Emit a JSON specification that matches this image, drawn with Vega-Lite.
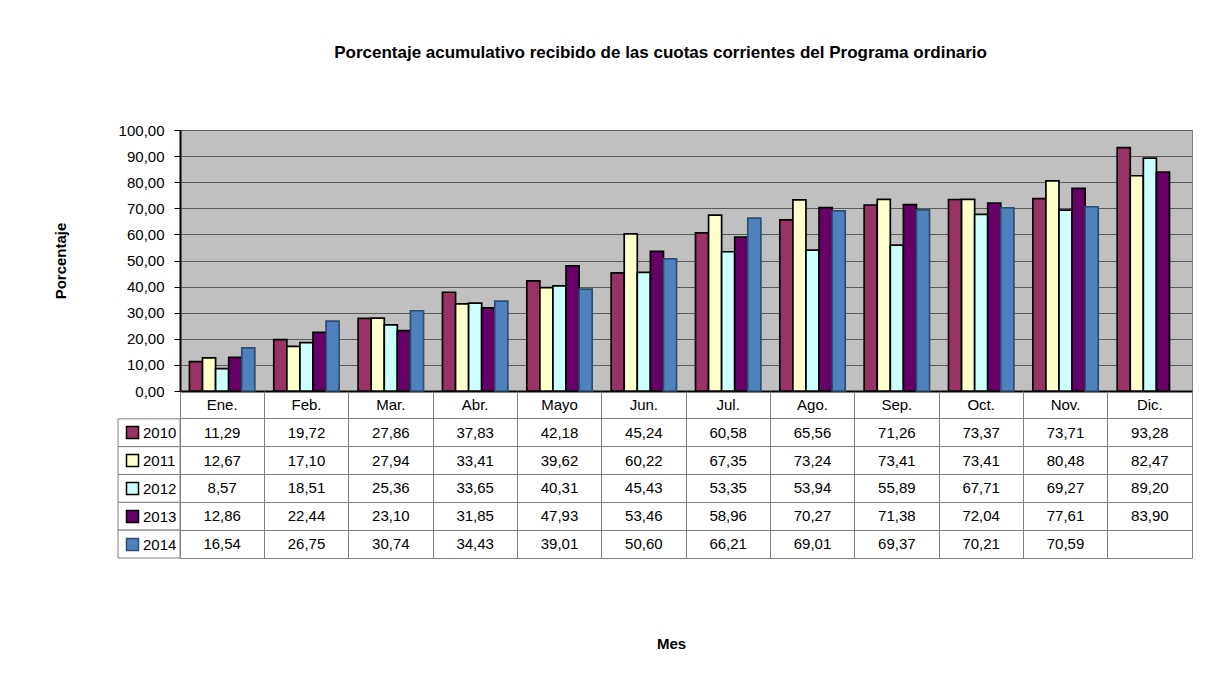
{
  "$schema": "https://vega.github.io/schema/vega-lite/v6.json",
  "background": "white",
  "padding": {"left": 52, "top": 43, "right": 5, "bottom": 5},
  "title": {"text": "Porcentaje acumulativo recibido de las cuotas corrientes del Programa ordinario", "fontSize": 17, "fontWeight": "bold", "anchor": "middle", "offset": 61, "dx": 38, "color": "black", "font": "Liberation Sans"},
  "config": {
    "font": "Liberation Sans",
    "locale": {"number": {"decimal": ",", "thousands": ".", "grouping": [3], "currency": ["", " €"]}}
  },
  "datasets": {
    "d": [
      {"mes": "Ene.", "anio": "2010", "valor": 11.29}, {"mes": "Feb.", "anio": "2010", "valor": 19.72}, {"mes": "Mar.", "anio": "2010", "valor": 27.86}, {"mes": "Abr.", "anio": "2010", "valor": 37.83}, {"mes": "Mayo", "anio": "2010", "valor": 42.18}, {"mes": "Jun.", "anio": "2010", "valor": 45.24}, {"mes": "Jul.", "anio": "2010", "valor": 60.58}, {"mes": "Ago.", "anio": "2010", "valor": 65.56}, {"mes": "Sep.", "anio": "2010", "valor": 71.26}, {"mes": "Oct.", "anio": "2010", "valor": 73.37}, {"mes": "Nov.", "anio": "2010", "valor": 73.71}, {"mes": "Dic.", "anio": "2010", "valor": 93.28},
      {"mes": "Ene.", "anio": "2011", "valor": 12.67}, {"mes": "Feb.", "anio": "2011", "valor": 17.10}, {"mes": "Mar.", "anio": "2011", "valor": 27.94}, {"mes": "Abr.", "anio": "2011", "valor": 33.41}, {"mes": "Mayo", "anio": "2011", "valor": 39.62}, {"mes": "Jun.", "anio": "2011", "valor": 60.22}, {"mes": "Jul.", "anio": "2011", "valor": 67.35}, {"mes": "Ago.", "anio": "2011", "valor": 73.24}, {"mes": "Sep.", "anio": "2011", "valor": 73.41}, {"mes": "Oct.", "anio": "2011", "valor": 73.41}, {"mes": "Nov.", "anio": "2011", "valor": 80.48}, {"mes": "Dic.", "anio": "2011", "valor": 82.47},
      {"mes": "Ene.", "anio": "2012", "valor": 8.57}, {"mes": "Feb.", "anio": "2012", "valor": 18.51}, {"mes": "Mar.", "anio": "2012", "valor": 25.36}, {"mes": "Abr.", "anio": "2012", "valor": 33.65}, {"mes": "Mayo", "anio": "2012", "valor": 40.31}, {"mes": "Jun.", "anio": "2012", "valor": 45.43}, {"mes": "Jul.", "anio": "2012", "valor": 53.35}, {"mes": "Ago.", "anio": "2012", "valor": 53.94}, {"mes": "Sep.", "anio": "2012", "valor": 55.89}, {"mes": "Oct.", "anio": "2012", "valor": 67.71}, {"mes": "Nov.", "anio": "2012", "valor": 69.27}, {"mes": "Dic.", "anio": "2012", "valor": 89.20},
      {"mes": "Ene.", "anio": "2013", "valor": 12.86}, {"mes": "Feb.", "anio": "2013", "valor": 22.44}, {"mes": "Mar.", "anio": "2013", "valor": 23.10}, {"mes": "Abr.", "anio": "2013", "valor": 31.85}, {"mes": "Mayo", "anio": "2013", "valor": 47.93}, {"mes": "Jun.", "anio": "2013", "valor": 53.46}, {"mes": "Jul.", "anio": "2013", "valor": 58.96}, {"mes": "Ago.", "anio": "2013", "valor": 70.27}, {"mes": "Sep.", "anio": "2013", "valor": 71.38}, {"mes": "Oct.", "anio": "2013", "valor": 72.04}, {"mes": "Nov.", "anio": "2013", "valor": 77.61}, {"mes": "Dic.", "anio": "2013", "valor": 83.90},
      {"mes": "Ene.", "anio": "2014", "valor": 16.54}, {"mes": "Feb.", "anio": "2014", "valor": 26.75}, {"mes": "Mar.", "anio": "2014", "valor": 30.74}, {"mes": "Abr.", "anio": "2014", "valor": 34.43}, {"mes": "Mayo", "anio": "2014", "valor": 39.01}, {"mes": "Jun.", "anio": "2014", "valor": 50.60}, {"mes": "Jul.", "anio": "2014", "valor": 66.21}, {"mes": "Ago.", "anio": "2014", "valor": 69.01}, {"mes": "Sep.", "anio": "2014", "valor": 69.37}, {"mes": "Oct.", "anio": "2014", "valor": 70.21}, {"mes": "Nov.", "anio": "2014", "valor": 70.59}
    ],
    "filas": [{"anio": "2010"}, {"anio": "2011"}, {"anio": "2012"}, {"anio": "2013"}, {"anio": "2014"}]
  },
  "columns": 2,
  "spacing": 0,
  "align": "each",
  "bounds": "flush",
  "resolve": {"scale": {"x": "independent", "y": "independent", "color": "shared", "stroke": "shared"}},
  "concat": [
    {
      "width": 62, "height": 261,
      "view": {"stroke": null},
      "data": {"values": [{"t": ""}]},
      "mark": {"type": "text"},
      "encoding": {"text": {"field": "t", "type": "nominal"}}
    },
    {
      "width": 1012, "height": 261,
      "view": {"fill": "#C0C0C0", "stroke": "#808080"},
      "data": {"name": "d"},
      "mark": {"type": "bar", "strokeWidth": 1.7},
      "encoding": {
        "x": {"field": "mes", "type": "nominal", "sort": ["Ene.", "Feb.", "Mar.", "Abr.", "Mayo", "Jun.", "Jul.", "Ago.", "Sep.", "Oct.", "Nov.", "Dic."],
              "scale": {"paddingInner": 0.225, "paddingOuter": 0.112},
              "axis": {"labels": false, "ticks": false, "title": null, "domainColor": "black", "domainWidth": 2}},
        "xOffset": {"field": "anio", "type": "nominal", "scale": {"paddingInner": 0, "paddingOuter": 0}},
        "y": {"field": "valor", "type": "quantitative", "scale": {"domain": [0, 100], "nice": false},
              "axis": {"values": [0, 10, 20, 30, 40, 50, 60, 70, 80, 90, 100], "format": ".2f", "grid": true, "gridColor": "#5a5a5a", "gridWidth": 1, "gridOpacity": 1,
                       "domainColor": "black", "domainWidth": 2, "tickColor": "black", "tickSize": 6, "labelPadding": 10, "labelFontSize": 15, "labelColor": "black",
                       "title": "Porcentaje", "titleFontSize": 15, "titleFontWeight": "bold", "titlePadding": 50, "titleColor": "black"}},
        "color": {"field": "anio", "type": "nominal",
                  "scale": {"domain": ["2010", "2011", "2012", "2013", "2014"], "range": ["#993366", "#FFFFCC", "#CCFFFF", "#660066", "#4F81BD"]},
                  "legend": {"orient": "none", "legendX": 7, "legendY": 295, "title": null, "padding": 0, "symbolType": "square", "symbolSize": 144,
                             "symbolStrokeColor": "black", "symbolStrokeWidth": 1.5, "symbolOpacity": 1, "labelFontSize": 15, "labelColor": "black", "labelOffset": 3, "labelBaseline": "middle", "rowPadding": 9}},
        "stroke": {"field": "anio", "type": "nominal",
                   "scale": {"domain": ["2010", "2011", "2012", "2013", "2014"], "range": ["black", "black", "black", "black", "#2C4D75"]},
                   "legend": null}
      }
    },
    {
      "width": 62, "height": 167,
      "view": {"stroke": null},
      "data": {"name": "filas"},
      "mark": {"type": "rect", "fill": "white", "stroke": "#808080", "strokeWidth": 1},
      "encoding": {
        "y": {"field": "anio", "type": "nominal", "scale": {"domain": ["hdr", "2010", "2011", "2012", "2013", "2014"], "paddingInner": 0, "paddingOuter": 0}, "axis": null}
      }
    },
    {
      "width": 1012, "height": 167,
      "view": {"stroke": null},
      "data": {"name": "d"},
      "encoding": {
        "x": {"field": "mes", "type": "nominal", "sort": ["Ene.", "Feb.", "Mar.", "Abr.", "Mayo", "Jun.", "Jul.", "Ago.", "Sep.", "Oct.", "Nov.", "Dic."],
              "scale": {"type": "band", "paddingInner": 0, "paddingOuter": 0},
              "axis": {"orient": "bottom", "labels": false, "ticks": false, "domain": true, "domainColor": "#808080", "domainWidth": 1, "grid": true, "gridColor": "#808080", "gridOpacity": 1, "bandPosition": 0,
                       "title": "Mes", "titleFontSize": 15, "titleFontWeight": "bold", "titleColor": "black", "titlePadding": 78, "titleX": 491}}
      },
      "layer": [
        {
          "mark": {"type": "text", "fontSize": 15, "color": "black"},
          "encoding": {
            "y": {"field": "anio", "type": "nominal", "scale": {"type": "band", "domain": ["hdr", "2010", "2011", "2012", "2013", "2014"], "paddingInner": 0, "paddingOuter": 0},
                  "axis": {"orient": "right", "labels": false, "ticks": false, "domain": true, "domainColor": "#808080", "grid": true, "gridColor": "#808080", "gridOpacity": 1, "bandPosition": 0, "values": ["2010", "2011", "2012", "2013", "2014"], "title": null}},
            "text": {"field": "valor", "type": "quantitative", "format": ".2f"}
          }
        },
        {
          "transform": [{"filter": "datum.anio == '2010'"}],
          "mark": {"type": "text", "fontSize": 15, "color": "black"},
          "encoding": {
            "y": {"datum": "hdr", "type": "nominal"},
            "text": {"field": "mes", "type": "nominal"}
          }
        }
      ]
    }
  ]
}
